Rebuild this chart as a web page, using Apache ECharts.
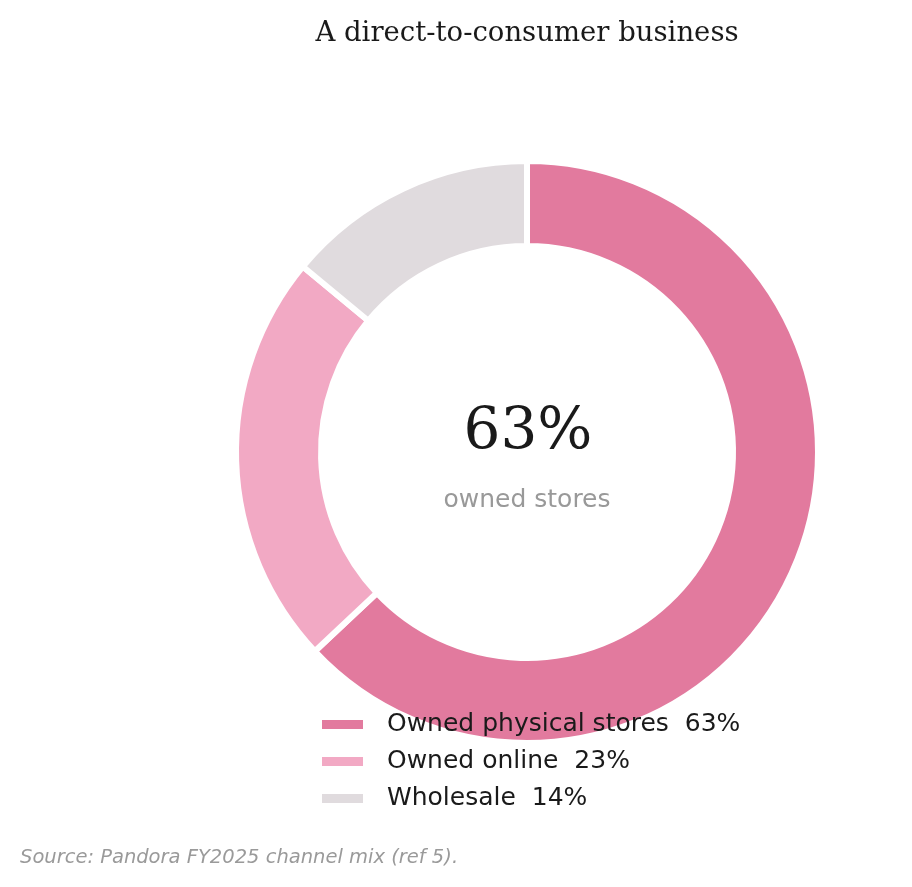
<!DOCTYPE html>
<html>
<head>
<meta charset="utf-8">
<script src="https://cdn.jsdelivr.net/npm/echarts@6/dist/echarts.min.js"></script>
<style>
  html, body { margin: 0; padding: 0; background: #fff; }
  #chart { width: 912px; height: 887px; }
</style>
</head>
<body>
<div id="chart"></div>
<script>
// channel mix data
const channels = ["Owned physical stores", "Owned online", "Wholesale"];
const shares = [63, 23, 14];
const colors = ["#E27A9E", "#F2A9C4", "#E0DBDE"];

const chart = echarts.init(document.getElementById("chart"), null, { renderer: "canvas" });

const option = {
  animation: false,
  backgroundColor: "#fff",
  color: colors,
  title: [
    {
      text: "A direct-to-consumer business",
      left: 527, top: 20, textAlign: "center", padding: 0,
      textStyle: { fontFamily: "DejaVu Serif", fontSize: 27.5, fontWeight: "normal", color: "#1a1a1a" }
    },
    {
      text: shares[0] + "%",
      left: 528, top: 404, textAlign: "center", padding: 0,
      textStyle: { fontFamily: "DejaVu Serif", fontSize: 58, fontWeight: "normal", color: "#1a1a1a" }
    },
    {
      text: "owned stores",
      left: 527, top: 488, textAlign: "center", padding: 0,
      textStyle: { fontFamily: "DejaVu Sans", fontSize: 25, fontWeight: "normal", color: "#999999" }
    },
    {
      text: "Source: Pandora FY2025 channel mix (ref 5).",
      left: 20, top: 848, padding: 0,
      textStyle: { fontFamily: "DejaVu Sans", fontSize: 19.5, fontStyle: "italic", fontWeight: "normal", color: "#9a9a9a" }
    }
  ],
  legend: {
    orient: "vertical",
    left: 315, top: 707,
    itemWidth: 43, itemHeight: 11, itemGap: 12,
    icon: "rect",
    data: channels,
    formatter: name => name + "  " + shares[channels.indexOf(name)] + "%",
    textStyle: { fontFamily: "DejaVu Sans", fontSize: 25, lineHeight: 25, color: "#1a1a1a", padding: [0, 0, 0, 18] }
  },
  series: [{
    type: "pie",
    center: [527, 452],
    radius: [206, 291],
    startAngle: 90,
    clockwise: true,
    label: { show: false },
    labelLine: { show: false },
    emphasis: { disabled: true },
    itemStyle: { borderColor: "#fff", borderWidth: 6 },
    data: channels.map((c, i) => ({ name: c, value: shares[i] }))
  }]
};

chart.setOption(option);
</script>
</body>
</html>
